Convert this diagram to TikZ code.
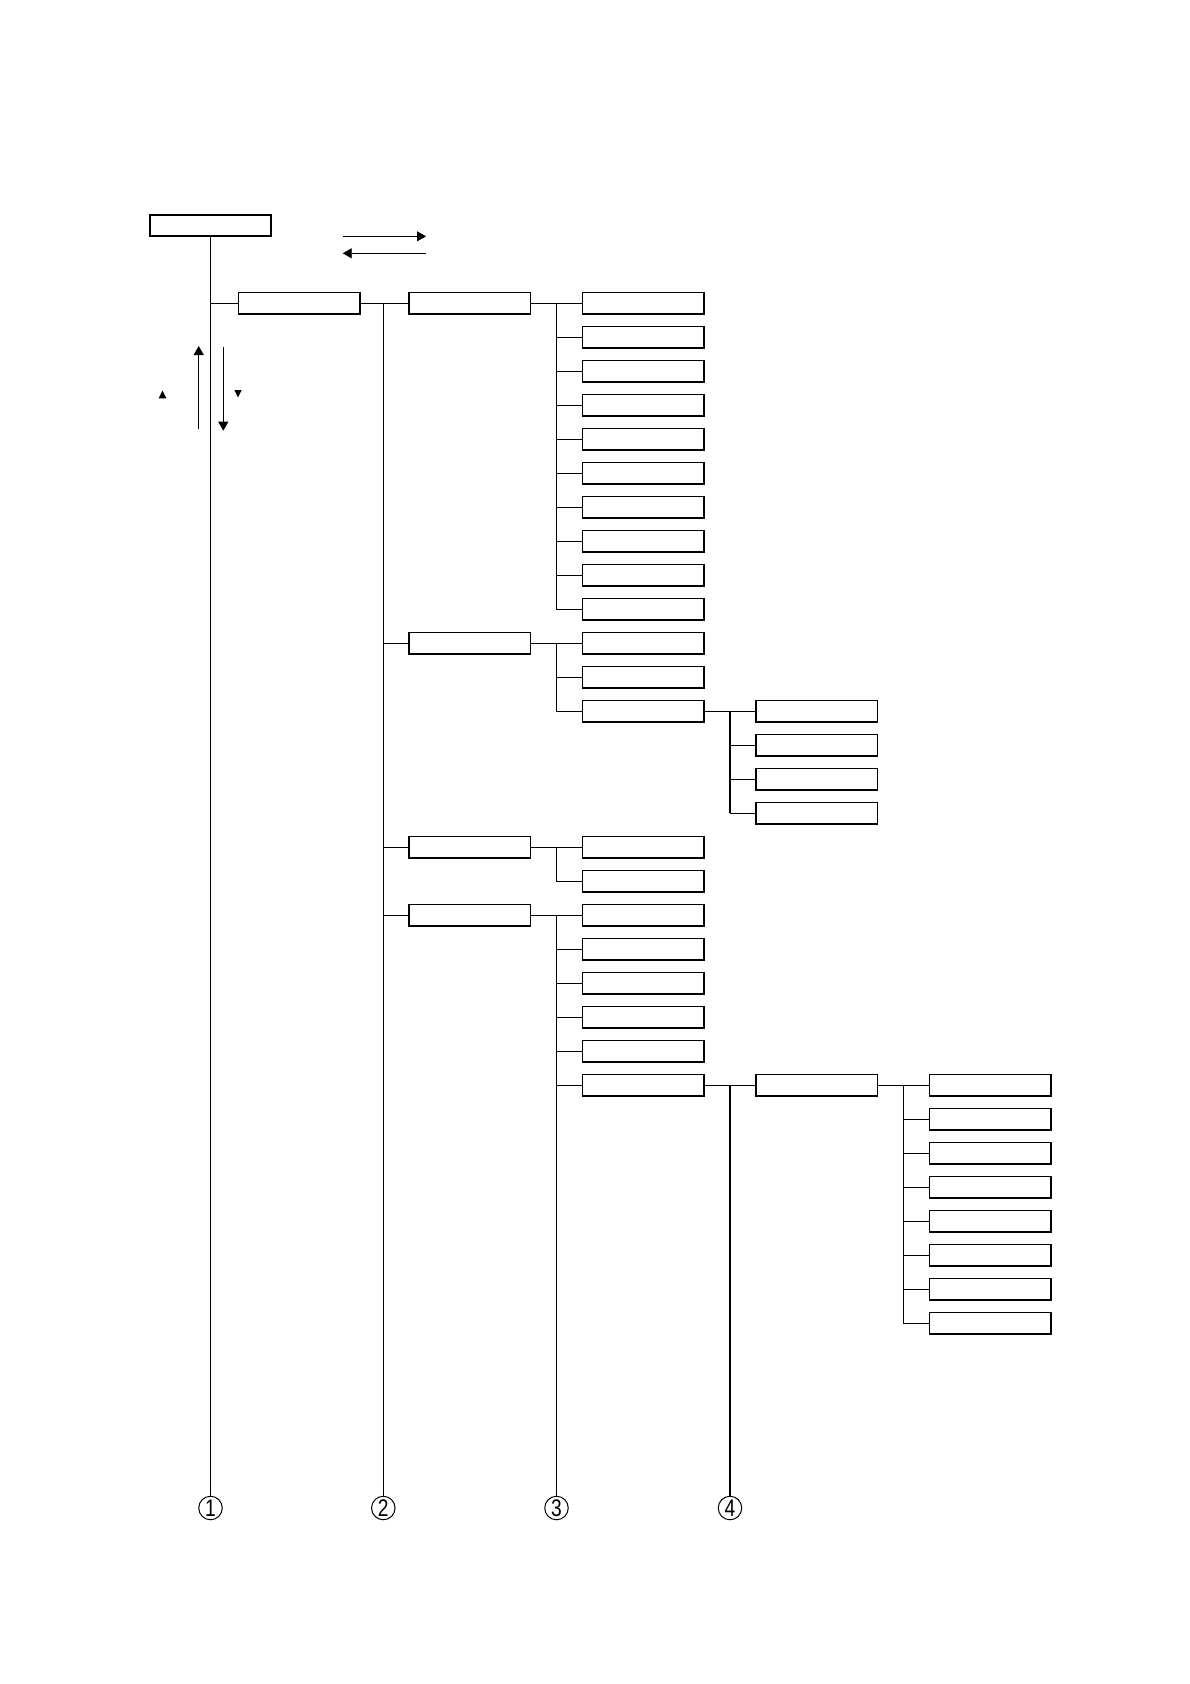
\documentclass[tikz,border=0pt]{standalone}
\usepackage{fontspec}
\setmainfont{Liberation Sans}
\usetikzlibrary{arrows.meta}
\begin{document}
\begin{tikzpicture}[x=1pt,y=-1pt,
  box/.style={draw,line width=1.7pt,minimum width=121.3pt,minimum height=21.6pt,inner sep=0pt,outer sep=0pt},
  vline/.style={line width=0.9pt},
  hline/.style={line width=1.3pt},
  thickline/.style={line width=1.9pt},
  arr/.style={-{Triangle[length=9pt,width=10pt]}},
  num/.style={circle,draw,line width=1pt,minimum size=23.5pt,inner sep=0pt,font=\fontsize{24}{24}\selectfont}
]
\useasboundingbox[fill=white] (0,0) rectangle (1190,1684);

% ---- boxes ----
\node[box] (top) at (210.5,225.5) {};
\node[box] (l1) at (299,303.3) {};
\node[box] (a) at (469.8,303.3) {};
\node[box] (b) at (469.8,643.3) {};
\node[box] (c) at (469.8,847.3) {};
\node[box] (d) at (469.8,915.3) {};
\foreach \i in {0,...,9} \node[box] (a\i) at (643.2,{303.3+34*\i}) {};
\foreach \i/\k in {1/10,2/11,3/12} \node[box] (b\i) at (643.2,{303.3+34*\k}) {};
\foreach \i/\k in {1/12,2/13,3/14,4/15} \node[box] (f\i) at (816.7,{303.3+34*\k}) {};
\foreach \i/\k in {1/16,2/17} \node[box] (c\i) at (643.2,{303.3+34*\k}) {};
\foreach \i/\k in {1/18,2/19,3/20,4/21,5/22,6/23} \node[box] (d\i) at (643.2,{303.3+34*\k}) {};
\node[box] (e) at (816.7,1085.3) {};
\foreach \i/\k in {1/23,2/24,3/25,4/26,5/27,6/28,7/29,8/30} \node[box] (e\i) at (990.2,{303.3+34*\k}) {};

% ---- circled numbers ----
\node[num] (n1) at (210.5,1508) {\scalebox{0.8}[1]{1}};
\node[num] (n2) at (383.3,1508) {\scalebox{0.8}[1]{2}};
\node[num] (n3) at (556.5,1508) {\scalebox{0.8}[1]{3}};
\node[num] (n4) at (730,1508) {\scalebox{0.8}[1]{4}};
\coordinate (j5) at (903.3,1085.3);

% ---- main verticals ----
\draw[vline] (top.south) -- (n1.north);
\draw[hline] (n1.north |- l1.west) -- (l1.west);
\draw[hline] (l1.east) -- (a.west);
\draw[vline] (n2.north |- l1.east) -- (n2.north);
\foreach \n in {b,c,d} \draw[vline] (n2.north |- \n.west) -- (\n.west);

% group A
\draw[hline] (a.east) -- (a0.west);
\draw[vline] (n3.north |- a0.west) |- (a9.west);
\foreach \i in {1,...,8} \draw[hline] (n3.north |- a\i.west) -- (a\i.west);
\draw[hline] (n3.north |- a9.west) -- (a9.west);

% group B
\draw[vline] (b.east) -- (b1.west);
\draw[vline] (n3.north |- b1.west) |- (b3.west);
\draw[vline] (n3.north |- b2.west) -- (b2.west);
\draw[vline] (b3.east) -- (f1.west);
\draw[thickline] (n4.north |- f1.west) -- (n4.north |- f4.west);
\foreach \i in {2,3,4} \draw[vline] (n4.north |- f\i.west) -- (f\i.west);

% group C
\draw[vline] (c.east) -- (c1.west);
\draw[vline] (n3.north |- c1.west) |- (c2.west);

% group D
\draw[vline] (d.east) -- (d1.west);
\draw[vline] (n3.north |- d1.west) -- (n3.north);
\foreach \i in {2,...,6} \draw[hline] (n3.north |- d\i.west) -- (d\i.west);
\draw[hline] (d6.east) -- (e.west);
\draw[thickline] (n4.north |- e.west) -- (n4.north);

% group E
\draw[hline] (e.east) -- (e1.west);
\draw[vline] (j5) |- (e8.west);
\foreach \i in {2,...,8} \draw[hline] (j5 |- e\i.west) -- (e\i.west);

% ---- arrows ----
\coordinate (ra) at (342.7,236.3);
\coordinate (rb) at (426,236.3);
\coordinate (la) at (426,253.3);
\coordinate (lb) at (342.7,253.3);
\coordinate (ua) at (198.7,429);
\coordinate (ub) at (198.7,346);
\coordinate (da) at (223.3,346.7);
\coordinate (db) at (223.3,430.7);
\draw[arr,line width=0.8pt] (ra) -- (rb);
\draw[arr,line width=0.8pt] (la) -- (lb);
\draw[arr,line width=1.4pt] (ua) -- (ub);
\draw[arr,line width=0.9pt] (da) -- (db);

% small triangles
\fill (162.5,390.7) -- (158.6,398.3) -- (166.4,398.3) -- cycle;
\fill (234.3,390) -- (241.7,390) -- (238,397.3) -- cycle;
\end{tikzpicture}
\end{document}
